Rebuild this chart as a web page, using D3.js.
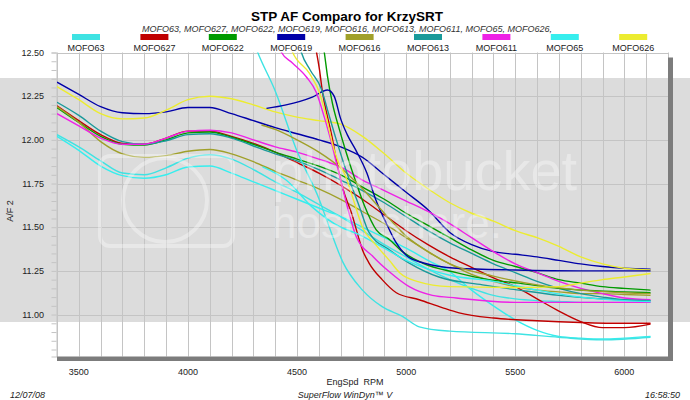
<!DOCTYPE html>
<html>
<head>
<meta charset="utf-8">
<script src="https://cdn.jsdelivr.net/npm/d3@7/dist/d3.min.js"></script>
<style>
  body { margin: 0; background: #fff; }
  svg { display: block; font-family: 'Liberation Sans', Arial, sans-serif; }
</style>
</head>
<body>
<svg id="chart" width="690" height="400"></svg>
<script>
// legend order + colours
const seriesNames = ['MOFO63', 'MOFO627', 'MOFO622', 'MOFO619', 'MOFO616', 'MOFO613', 'MOFO611', 'MOFO65', 'MOFO626'];
const seriesColors = ['#3ee3e3', '#c00000', '#009a00', '#0000a8', '#a0a02a', '#1a9a9a', '#ee22e6', '#36eeee', '#ecec30'];
const yTicks = [11.00, 11.25, 11.50, 11.75, 12.00, 12.25, 12.50];
const xTicks = [3500, 4000, 4500, 5000, 5500, 6000];

// first pull of each file (starts at 3400 rpm)  [rpm, A/F]
const MOFO63_a = [[3400,12.03],[3500,11.96],[3600,11.88],[3700,11.81],[3800,11.80],[3900,11.84],[4000,11.895],[4100,11.915],[4200,11.89],[4300,11.83],[4400,11.76],[4500,11.70],[4600,11.63],[4700,11.56],[4800,11.48],[4900,11.40],[5000,11.33],[5100,11.26],[5200,11.20],[5300,11.15],[5400,11.11],[5500,11.09],[5600,11.08],[5700,11.075],[5800,11.07],[6000,11.07],[6120,11.07]];
const MOFO627_a = [[3400,12.195],[3500,12.11],[3600,12.03],[3700,11.98],[3800,11.975],[3900,12.01],[4000,12.05],[4100,12.05],[4200,12.02],[4300,11.98],[4400,11.93],[4500,11.87],[4600,11.81],[4700,11.74],[4800,11.66],[4900,11.57],[5000,11.48],[5100,11.40],[5200,11.33],[5300,11.27],[5400,11.21],[5500,11.16],[5600,11.09],[5700,11.02],[5800,10.96],[5900,10.925],[6000,10.925],[6120,10.945]];
const MOFO622_a = [[3400,12.185],[3500,12.10],[3600,12.02],[3700,11.975],[3800,11.97],[3900,12.00],[4000,12.04],[4100,12.045],[4200,12.015],[4300,11.975],[4400,11.93],[4500,11.89],[4600,11.85],[4700,11.80],[4800,11.73],[4900,11.66],[5000,11.58],[5100,11.51],[5200,11.44],[5300,11.37],[5400,11.31],[5500,11.275],[5600,11.24],[5700,11.20],[5800,11.18],[5900,11.16],[6000,11.15],[6120,11.14]];
const MOFO619_a = [[3400,12.33],[3500,12.26],[3600,12.19],[3700,12.155],[3800,12.15],[3900,12.16],[4000,12.185],[4100,12.185],[4200,12.15],[4300,12.11],[4400,12.07],[4500,12.035],[4600,12.00],[4700,11.96],[4800,11.90],[4900,11.80],[5000,11.70],[5100,11.60],[5200,11.47],[5300,11.40],[5400,11.36],[5500,11.345],[5600,11.33],[5700,11.31],[5800,11.29],[5900,11.275],[6000,11.265],[6120,11.26]];
const MOFO616_a = [[3400,12.19],[3500,12.10],[3600,11.99],[3700,11.92],[3800,11.90],[3900,11.91],[4000,11.935],[4100,11.945],[4200,11.92],[4300,11.875],[4400,11.82],[4500,11.77],[4600,11.72],[4700,11.66],[4800,11.59],[4900,11.52],[5000,11.44],[5100,11.36],[5200,11.29],[5300,11.23],[5400,11.19],[5500,11.16],[5600,11.14],[5700,11.13],[5800,11.12],[5900,11.12],[6000,11.115],[6120,11.11]];
const MOFO613_a = [[3400,12.215],[3500,12.14],[3600,12.05],[3700,11.99],[3800,11.975],[3900,11.995],[4000,12.03],[4100,12.035],[4200,12.01],[4300,11.965],[4400,11.92],[4500,11.88],[4600,11.83],[4700,11.77],[4800,11.71],[4900,11.64],[5000,11.56],[5100,11.48],[5200,11.41],[5300,11.35],[5400,11.29],[5500,11.24],[5600,11.19],[5700,11.15],[5800,11.12],[5900,11.10],[6000,11.085],[6120,11.08]];
const MOFO611_a = [[3400,12.15],[3500,12.08],[3600,12.01],[3700,11.975],[3800,11.975],[3900,12.01],[4000,12.05],[4100,12.055],[4200,12.04],[4300,12.00],[4400,11.96],[4500,11.93],[4600,11.89],[4700,11.845],[4800,11.77],[4900,11.71],[5000,11.65],[5100,11.59],[5200,11.52],[5300,11.44],[5400,11.36],[5500,11.29],[5600,11.24],[5700,11.19],[5800,11.15],[5900,11.12],[6000,11.095],[6120,11.085]];
const MOFO65_a = [[3400,12.02],[3500,11.94],[3600,11.85],[3700,11.795],[3800,11.78],[3900,11.80],[4000,11.845],[4100,11.85],[4200,11.81],[4300,11.76],[4400,11.71],[4500,11.66],[4600,11.61],[4700,11.56],[4800,11.50],[4900,11.44],[5000,11.38],[5100,11.31],[5200,11.245],[5300,11.14],[5400,11.05],[5500,10.97],[5600,10.91],[5700,10.875],[5800,10.865],[5900,10.86],[6000,10.865],[6120,10.875]];
const MOFO626_a = [[3400,12.305],[3500,12.23],[3600,12.15],[3700,12.12],[3800,12.125],[3900,12.17],[4000,12.23],[4100,12.25],[4200,12.235],[4300,12.20],[4400,12.16],[4500,12.13],[4600,12.11],[4700,12.09],[4800,12.02],[4900,11.92],[5000,11.81],[5100,11.72],[5200,11.64],[5300,11.58],[5400,11.535],[5500,11.48],[5600,11.44],[5700,11.39],[5800,11.33],[5900,11.29],[6000,11.265],[6120,11.255]];

// second pull of each file (starts higher up the rev range)
const MOFO63_b = [[4290,12.60],[4320,12.50],[4400,12.28],[4497,11.945],[4603,11.655],[4648,11.50],[4710,11.30],[4800,11.14],[4890,11.045],[4983,10.99],[5060,10.93],[5200,10.905],[5500,10.89],[5700,10.87],[5900,10.855],[6120,10.87]];
const MOFO627_b = [[4570,12.62],[4603,12.40],[4617,12.27],[4640,12.13],[4660,12.02],[4680,11.885],[4708,11.73],[4755,11.56],[4772,11.485],[4800,11.37],[4830,11.295],[4890,11.20],[4955,11.125],[5060,11.085],[5165,11.04],[5243,11.01],[5400,10.98],[5600,10.965],[5800,10.955],[6000,10.95],[6120,10.95]];
const MOFO622_b = [[4610,12.62],[4625,12.50],[4640,12.36],[4662,12.21],[4694,12.06],[4726,11.925],[4772,11.75],[4810,11.62],[4863,11.485],[4923,11.43],[4983,11.36],[5075,11.295],[5230,11.24],[5380,11.20],[5517,11.18],[5700,11.15],[6000,11.13],[6120,11.125]];
const MOFO619_b = [[4360,12.18],[4450,12.20],[4570,12.245],[4640,12.285],[4670,12.25],[4700,12.12],[4730,12.03],[4770,11.94],[4820,11.81],[4860,11.66],[4910,11.52],[4950,11.42],[5000,11.34],[5080,11.295],[5230,11.265],[5500,11.255],[5800,11.25],[6120,11.25]];
const MOFO616_b = [[4337,12.085],[4400,12.06],[4500,12.00],[4600,11.93],[4700,11.84],[4800,11.72],[4900,11.58],[5000,11.45],[5100,11.36],[5200,11.29],[5400,11.22],[5600,11.17],[5800,11.14],[6000,11.125],[6120,11.12]];
const MOFO613_b = [[4500,12.60],[4520,12.50],[4560,12.40],[4612,12.29],[4640,12.17],[4680,12.00],[4740,11.77],[4785,11.62],[4830,11.47],[4923,11.37],[5014,11.295],[5150,11.215],[5350,11.17],[5517,11.14],[5700,11.11],[5900,11.09],[6120,11.08]];
const MOFO611_b = [[4400,12.60],[4429,12.50],[4479,12.44],[4543,12.36],[4589,12.27],[4625,12.13],[4650,12.02],[4690,11.82],[4730,11.62],[4770,11.45],[4850,11.33],[4923,11.245],[5014,11.16],[5120,11.11],[5230,11.095],[5500,11.07],[5800,11.07],[6120,11.07]];
const MOFO65_b = [[4342,11.845],[4450,11.77],[4570,11.615],[4700,11.50],[4772,11.465],[4900,11.38],[5000,11.31],[5100,11.26],[5200,11.225],[5400,11.19],[5600,11.14],[5800,11.10],[6000,11.08],[6120,11.075]];
const MOFO626_b = [[4450,12.60],[4480,12.50],[4557,12.38],[4603,12.27],[4634,12.13],[4662,11.98],[4690,11.87],[4720,11.80],[4755,11.67],[4800,11.50],[4860,11.40],[4923,11.31],[4970,11.24],[5050,11.19],[5200,11.16],[5500,11.155],[5700,11.16],[5800,11.18],[5900,11.20],[6000,11.215],[6120,11.235]];

const pullsA = [MOFO63_a, MOFO627_a, MOFO622_a, MOFO619_a, MOFO616_a, MOFO613_a, MOFO611_a, MOFO65_a, MOFO626_a];
const pullsB = [MOFO63_b, MOFO627_b, MOFO622_b, MOFO619_b, MOFO616_b, MOFO613_b, MOFO611_b, MOFO65_b, MOFO626_b];

const svg = d3.select('#chart');
const plotL = 57, plotR = 668, plotT = 52.5, plotB = 356.5;

const x = d3.scaleLinear().domain([3400, 6200]).range([plotL, plotR]);
const y = d3.scaleLinear().domain([10.76, 12.5]).range([plotB, plotT]);

// photobucket band behind everything
svg.append('rect').attr('x', 0).attr('y', 78).attr('width', 690).attr('height', 244).attr('fill', '#dcdcdc');

// grid
const grid = svg.append('g').attr('stroke', '#c4c4c4').attr('stroke-width', 1);
grid.selectAll('line.v').data(d3.range(3400, 6201, 100)).enter().append('line')
    .attr('x1', d => Math.round(x(d)) + 0.5).attr('x2', d => Math.round(x(d)) + 0.5)
    .attr('y1', plotT).attr('y2', plotB);
grid.selectAll('line.h').data(yTicks).enter().append('line')
    .attr('x1', plotL).attr('x2', plotR)
    .attr('y1', d => Math.round(y(d)) + 0.5).attr('y2', d => Math.round(y(d)) + 0.5);

// y axis with minor ticks
const yAxis = d3.axisLeft(y).tickValues(d3.range(10.80, 12.51, 0.05)).tickSize(5).tickFormat('');
const ya = svg.append('g').attr('transform', 'translate(' + (plotL - 0.5) + ',0)').call(yAxis);
ya.selectAll('line').attr('stroke', '#c4c4c4');
ya.select('.domain').attr('stroke', '#c4c4c4');
svg.append('g').selectAll('text').data(yTicks).enter().append('text')
    .attr('x', 44).attr('y', d => y(d)).attr('dy', '0.35em')
    .attr('text-anchor', 'end').attr('font-size', '9px').attr('fill', '#222')
    .text(d => d.toFixed(2));

// x labels
svg.append('g').selectAll('text').data(xTicks).enter().append('text')
    .attr('x', d => x(d)).attr('y', 374.5)
    .attr('text-anchor', 'middle').attr('font-size', '9px').attr('fill', '#222')
    .text(d => d);

// lines
svg.append('clipPath').attr('id', 'plotclip').append('rect')
    .attr('x', plotL).attr('y', plotT).attr('width', plotR - plotL).attr('height', plotB - plotT);
const line = d3.line().x(d => x(d[0])).y(d => y(d[1])).curve(d3.curveMonotoneX);
const plot = svg.append('g').attr('clip-path', 'url(#plotclip)');
pullsA.forEach(function(pts, i) {
    plot.append('path').datum(pts).attr('d', line).attr('fill', 'none')
        .attr('stroke', seriesColors[i]).attr('stroke-width', 1.4);
});
pullsB.forEach(function(pts, i) {
    plot.append('path').datum(pts).attr('d', line).attr('fill', 'none')
        .attr('stroke', seriesColors[i]).attr('stroke-width', 1.4);
});

// watermark
const wm = svg.append('g').attr('fill', 'none').attr('stroke', '#fff').attr('stroke-opacity', 0.35).attr('stroke-width', 4);
wm.append('rect').attr('x', 100).attr('y', 156).attr('width', 133).attr('height', 90).attr('rx', 10);
wm.append('circle').attr('cx', 165).attr('cy', 200).attr('r', 42);
svg.append('text').attr('x', 272).attr('y', 190).attr('font-size', '56px').attr('fill', '#fff')
    .attr('fill-opacity', 0.35).text('photobucket');
svg.append('text').attr('x', 272).attr('y', 238).attr('font-size', '44px').attr('fill', '#fff')
    .attr('fill-opacity', 0.35).text('host. share.');

// drop shadow frame
svg.append('rect').attr('x', plotL).attr('y', plotB).attr('width', plotR + 5 - plotL).attr('height', 4.5).attr('fill', '#7c7c7c');
svg.append('rect').attr('x', plotR).attr('y', plotT + 5).attr('width', 5).attr('height', plotB - plotT - 0.5).attr('fill', '#7c7c7c');

// titles
svg.append('text').attr('x', 347).attr('y', 21).attr('text-anchor', 'middle')
    .attr('font-size', '13.5px').attr('font-weight', 'bold').attr('fill', '#000')
    .text('STP AF Comparo for KrzySRT');
svg.append('text').attr('x', 347).attr('y', 32).attr('text-anchor', 'middle')
    .attr('font-size', '9px').attr('font-style', 'italic').attr('fill', '#333')
    .text(seriesNames.join(', ') + ',');

// legend
const leg = svg.append('g').selectAll('g').data(seriesNames).enter().append('g')
    .attr('transform', (d, i) => 'translate(' + (86 + i * 68.4) + ',0)');
leg.append('rect').attr('x', -14).attr('y', 34).attr('width', 28).attr('height', 6)
    .attr('fill', (d, i) => seriesColors[i]);
leg.append('text').attr('y', 50.5).attr('text-anchor', 'middle').attr('font-size', '9px')
    .attr('fill', '#222').text(d => d);

// axis titles + footer
svg.append('text').attr('transform', 'translate(13,211) rotate(-90)').attr('text-anchor', 'middle')
    .attr('font-size', '9px').attr('fill', '#222').text('A/F 2');
svg.append('text').attr('x', 355).attr('y', 384.5).attr('text-anchor', 'middle')
    .attr('font-size', '9px').attr('fill', '#222').style('white-space', 'pre').text('EngSpd  RPM');
svg.append('text').attr('x', 345).attr('y', 398).attr('text-anchor', 'middle')
    .attr('font-size', '9px').attr('font-style', 'italic').attr('fill', '#222').text('SuperFlow WinDyn™ V');
svg.append('text').attr('x', 10).attr('y', 398)
    .attr('font-size', '9px').attr('font-style', 'italic').attr('fill', '#222').text('12/07/08');
svg.append('text').attr('x', 680).attr('y', 398).attr('text-anchor', 'end')
    .attr('font-size', '9px').attr('font-style', 'italic').attr('fill', '#222').text('16:58:50');
</script>
</body>
</html>
